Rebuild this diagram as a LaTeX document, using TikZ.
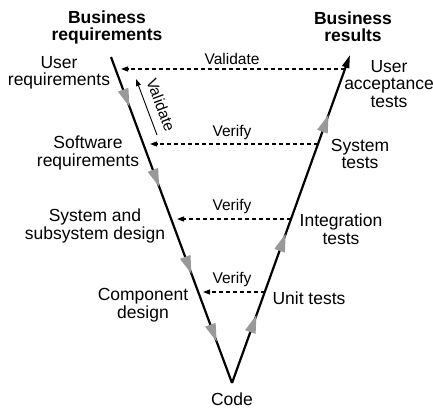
\documentclass[tikz,border=0pt]{standalone}
\usepackage{fontspec}
\setmainfont{Liberation Sans}
\usetikzlibrary{arrows.meta,decorations.markings,calc}
\definecolor{tipgray}{HTML}{999999}
% grey flow arrowhead, pointing along the path
\newcommand\flowtip{\fill[tipgray] (0pt,0pt) -- (-18pt,5.6pt) -- (-18pt,-5.6pt) -- cycle;}
\begin{document}
\begin{tikzpicture}[x=1pt,y=-1pt,
  lbl/.style={align=center,inner sep=0pt,font=\fontsize{17.5}{17.5}\selectfont},
  head/.style={lbl,font=\fontsize{17.5}{17}\selectfont\bfseries},
  small/.style={inner sep=0pt,font=\fontsize{15.5}{15.5}\selectfont},
  vline/.style={line width=2.2pt},
  check/.style={dashed,dash pattern=on 4pt off 3pt,line width=1.1pt,-{Triangle[length=7pt,width=5pt]}}]
  \useasboundingbox (0,0) rectangle (433,409);

  % ends of the V
  \coordinate (L0) at (111,57);
  \coordinate (V)  at (232,383);
  \coordinate (R0) at (350,55);

  % development side (down) and test side (up)
  \draw[vline] (L0) -- (V);
  \path[decoration={markings,
      mark=at position 0.152 with {\flowtip},
      mark=at position 0.398 with {\flowtip},
      mark=at position 0.665 with {\flowtip},
      mark=at position 0.873 with {\flowtip}},decorate] (L0) -- (V);
  \draw[vline,-{Triangle[length=13pt,width=7pt]}] (V) -- (R0);
  \path[decoration={markings,
      mark=at position 0.207 with {\flowtip},
      mark=at position 0.455 with {\flowtip},
      mark=at position 0.818 with {\flowtip}},decorate] (V) -- (R0);

  % headings
  \node[head] (breq) at (107,27) {Business\\requirements};
  \node[head] (bres) at (353,27) {Business\\results};

  % development stages
  \node[lbl] (ureq) at (59,73)   {User\\requirements};
  \node[lbl] (sreq) at (88,153)  {Software\\requirements};
  \node[lbl] (ssd)  at (95,226)  {System and\\subsystem design};
  \node[lbl] (cd)   at (143,305) {Component\\design};
  \node[lbl] (code) at (232,399) {Code};

  % test stages
  \node[lbl] (uat) at (389,84)  {User\\acceptance\\tests};
  \node[lbl] (st)  at (360,154) {System\\tests};
  \node[lbl] (it)  at (341,229) {Integration\\tests};
  \node[lbl] (ut)  at (309,298) {Unit tests};

  % attachment points of the checks on both arms
  \coordinate (a1) at (345,69);  \coordinate (b1) at (121,69);
  \coordinate (a2) at (318,144); \coordinate (b2) at (150,144);
  \coordinate (a3) at (291,219); \coordinate (b3) at (177,219);
  \coordinate (a4) at (265,292); \coordinate (b4) at (203,292);

  \draw[check] (a1) -- (b1);
  \draw[check] (a2) -- (b2);
  \draw[check] (a3) -- (b3);
  \draw[check] (a4) -- (b4);

  \node[small] (c1) at (232,59)  {Validate};
  \node[small] (c2) at (232,132) {Verify};
  \node[small] (c3) at (232,206) {Verify};
  \node[small] (c4) at (232,279) {Verify};

  % validation of the software requirements against the user requirements
  \coordinate (v0) at (157,135);
  \coordinate (v1) at (136,79);
  \draw[line width=0.9pt,-{Triangle[length=7pt,width=5pt]}] (v0) -- (v1);
  \node[small,rotate=-69.6] (vlab) at (161,105) {Validate};
\end{tikzpicture}
\end{document}
